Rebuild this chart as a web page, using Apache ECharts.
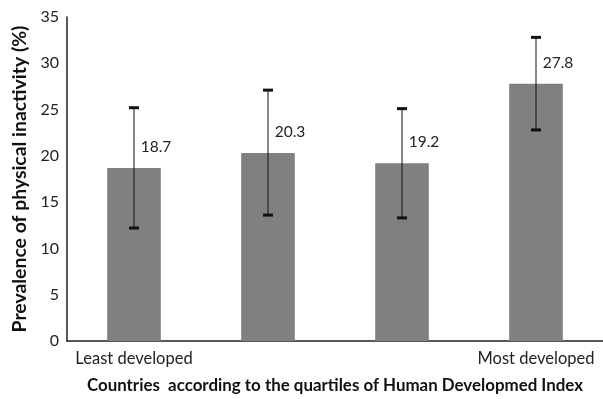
<!DOCTYPE html>
<html>
<head>
<meta charset="utf-8">
<script src="https://cdn.jsdelivr.net/npm/echarts@6/dist/echarts.min.js"></script>
<style>
  html, body { margin: 0; padding: 0; background: #fff; }
  #chart { width: 603px; height: 399px; }
</style>
</head>
<body>
<div id="chart"></div>
<script>
// HDI quartile groups (only the extremes are labelled on the axis)
const categories = ['Least developed', '', '', 'Most developed'];
// Prevalence of physical inactivity (%) per group
const prevalence = [18.7, 20.3, 19.2, 27.8];
// Lower and upper bounds of the error bars
const lowerBound = [12.2, 13.6, 13.3, 22.8];
const upperBound = [25.2, 27.1, 25.1, 32.8];
// Y axis range and step
const yMin = 0, yMax = 35, yStep = 5;

const FONT = 'Lato, "Open Sans", sans-serif';
const chart = echarts.init(document.getElementById('chart'));

chart.setOption({
  animation: false,
  backgroundColor: '#ffffff',
  grid: { left: 67, top: 17, width: 544, height: 324, containLabel: false },
  xAxis: {
    type: 'category',
    data: categories,
    axisLine: { show: true, lineStyle: { color: '#222', width: 1.5 } },
    axisTick: { show: false },
    axisLabel: { color: '#222', fontFamily: FONT, fontSize: 16.5, margin: 9, interval: 0 },
    name: 'Countries  according to the quartiles of Human Developmed Index',
    nameLocation: 'middle',
    nameGap: 36,
    nameTextStyle: { color: '#111', fontFamily: FONT, fontSize: 16.9, fontWeight: 'bold' }
  },
  yAxis: {
    type: 'value',
    min: yMin, max: yMax, interval: yStep,
    axisLine: { show: true, lineStyle: { color: '#222', width: 1.5 } },
    axisTick: { show: false },
    splitLine: { show: false },
    axisLabel: { color: '#222', fontFamily: FONT, fontSize: 16, margin: 8 },
    name: 'Prevalence of physical inactivity (%)',
    nameLocation: 'middle',
    nameRotate: 90,
    nameGap: 38,
    nameTextStyle: { color: '#111', fontFamily: FONT, fontSize: 19.4, fontWeight: 'bold' }
  },
  series: [
    {
      type: 'bar',
      data: prevalence,
      barWidth: '40%',
      itemStyle: { color: '#808080' },
      label: {
        show: true,
        position: 'top',
        offset: [22, -8],
        color: '#222',
        fontFamily: FONT,
        fontSize: 15.5,
        formatter: p => p.value.toFixed(1)
      }
    },
    {
      type: 'custom',
      data: lowerBound.map((lo, i) => [i, lo, upperBound[i]]),
      z: 10,
      renderItem: function (params, api) {
        const x = api.value(0);
        const lo = api.coord([x, api.value(1)]);
        const hi = api.coord([x, api.value(2)]);
        const capHalf = 5;
        return {
          type: 'group',
          children: [
            { type: 'line', shape: { x1: lo[0], y1: lo[1], x2: hi[0], y2: hi[1] },
              style: { stroke: '#111', lineWidth: 1 } },
            { type: 'line', shape: { x1: lo[0] - capHalf, y1: lo[1], x2: lo[0] + capHalf, y2: lo[1] },
              style: { stroke: '#111', lineWidth: 3 } },
            { type: 'line', shape: { x1: hi[0] - capHalf, y1: hi[1], x2: hi[0] + capHalf, y2: hi[1] },
              style: { stroke: '#111', lineWidth: 3 } }
          ]
        };
      }
    }
  ]
});
</script>
</body>
</html>
